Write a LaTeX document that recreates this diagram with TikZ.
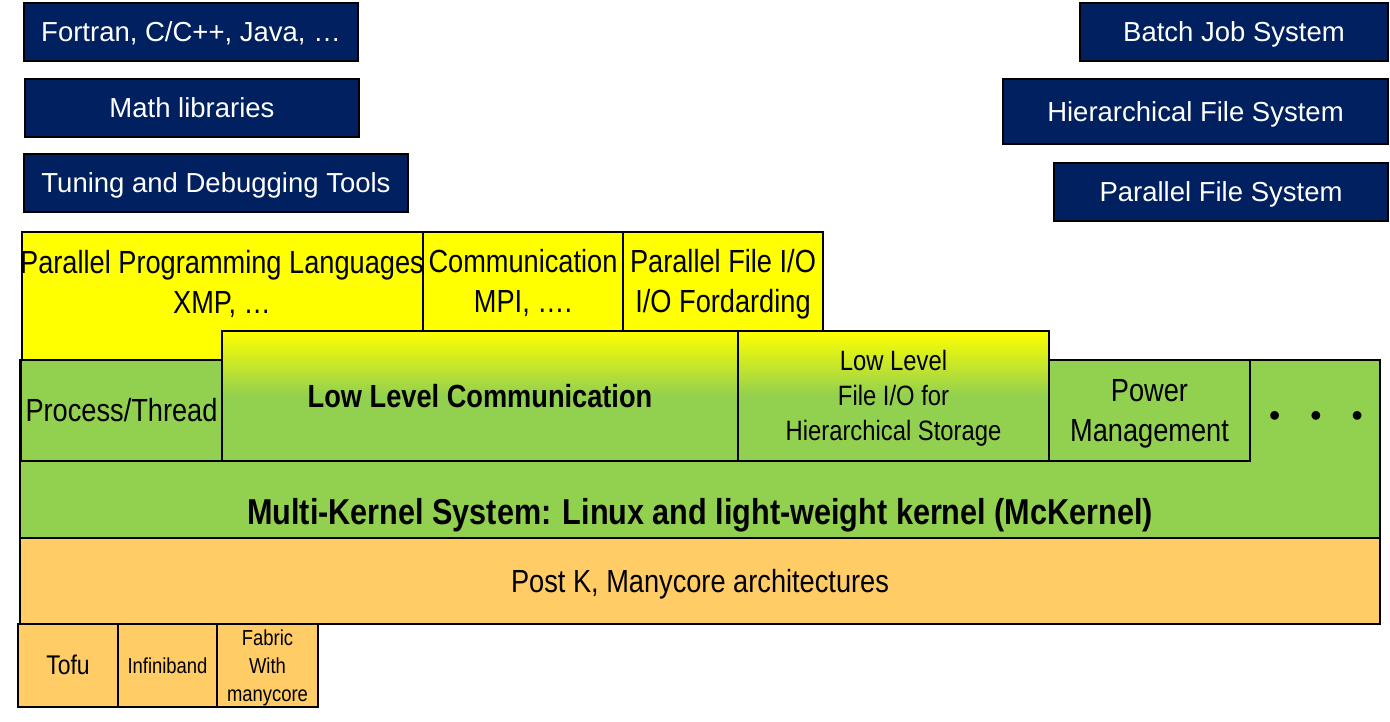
\documentclass[tikz,border=0pt]{standalone}
\usepackage{fontspec}
\setmainfont{Liberation Sans}
\newfontfamily\narrowfont[FakeStretch=0.85]{Liberation Sans}
\usepackage{tikz}

\definecolor{navy}{RGB}{0,32,96}
\definecolor{ylw}{RGB}{255,255,0}
\definecolor{grn}{RGB}{146,208,80}
\definecolor{orng}{RGB}{255,204,102}
\pgfdeclareverticalshading{lowshade}{100bp}{color(0bp)=(grn); color(50bp)=(grn); color(75bp)=(ylw); color(100bp)=(ylw)}

% line box as the slides center it
\newcommand{\ascentrule}{\rule{0pt}{0.905em}}
\newcommand{\descentrule}{\rule[-0.212em]{0pt}{0.212em}}

\tikzset{
  textbox/.style={inner sep=0pt, outer sep=0pt, align=center,
    execute at begin node=\ascentrule, execute at end node=\descentrule},
  layer/.style={textbox, draw=black, line width=2pt, anchor=north west, text=black,
    font=\narrowfont\fontsize{32}{40}\selectfont},
  navybox/.style={layer, fill=navy, text=white, font=\fontsize{27.5}{32}\selectfont},
  yellowbox/.style={layer, fill=ylw},
  greenbox/.style={layer, fill=grn},
  gradbox/.style={layer, shading=lowshade},
  orangebox/.style={layer, fill=orng},
  plain/.style={textbox, font=\narrowfont\fontsize{32}{40}\selectfont}
}

\begin{document}
\begin{tikzpicture}[x=1pt,y=-1pt]
  \useasboundingbox (0,0) rectangle (1390,722);

    % tools and services
    \node[navybox, minimum width=334pt, minimum height=58pt] (lang)  at (24,3)    {Fortran, C/C++, Java, …};
    \node[navybox, minimum width=334pt, minimum height=58pt] (math)  at (25,79)   {Math libraries};
    \node[navybox, minimum width=384pt, minimum height=58pt] (tools) at (24,154)  {Tuning and Debugging Tools};
    \node[navybox, minimum width=308pt, minimum height=58pt] (batch) at (1080,3)  {Batch Job System};
    \node[navybox, minimum width=385pt, minimum height=65pt] (hfs)   at (1003,79) {Hierarchical File System};
    \node[navybox, minimum width=334pt, minimum height=58pt] (pfs)   at (1054,163) {Parallel File System};

    % middleware
    \node[yellowbox, minimum width=401pt, minimum height=128pt] (ppl) at (22,232) {};
    \node[plain] (ppltext) at (222,282) {\ascentrule Parallel Programming Languages\\XMP, …\descentrule};
    \node[yellowbox, minimum width=200pt, minimum height=99pt] (comm) at (423,232)
      {\ascentrule Communication\\MPI, ….\descentrule};
    \node[yellowbox, minimum width=200pt, minimum height=99pt] (pfio) at (623,232)
      {\ascentrule Parallel File I/O\\I/O Fordarding\descentrule};

    % kernel
    \node[greenbox, minimum width=1360pt, minimum height=178pt] (mck) at (20,360) {};
    \node[plain, font=\narrowfont\bfseries\fontsize{36}{40}\selectfont] (mcktext) at (700,512)
      {Multi-Kernel System: Linux and light-weight kernel (McKernel)};
    \node[greenbox, minimum width=201pt, minimum height=101pt] (proc) at (21,360) {Process/Thread};
    \node[gradbox, minimum width=516pt, minimum height=130pt] (llc) at (222,331) {\bfseries Low Level Communication};
    \node[gradbox, minimum width=311pt, minimum height=130pt, font=\narrowfont\fontsize{28}{35}\selectfont]
      (llfio) at (738,331) {\ascentrule Low Level\\File I/O for\\Hierarchical Storage\descentrule};
    \node[greenbox, minimum width=201pt, minimum height=101pt] (power) at (1049,360)
      {\ascentrule Power\\Management\descentrule};
    \node[inner sep=0pt, anchor=base, font=\fontsize{32}{40}\selectfont] (dots) at (1316,426)
      {•\hspace{30pt}•\hspace{30pt}•};

    % hardware
    \node[orangebox, minimum width=1360pt, minimum height=86pt] (postk) at (20,538) {Post K, Manycore architectures};
    \node[orangebox, minimum width=100pt, minimum height=83pt, font=\narrowfont\fontsize{27}{28}\selectfont]
      (tofu) at (18,624) {Tofu};
    \node[orangebox, minimum width=99pt, minimum height=83pt, font=\narrowfont\fontsize{21.7}{28}\selectfont]
      (ib) at (118,624) {Infiniband};
    \node[orangebox, minimum width=101pt, minimum height=83pt, font=\narrowfont\fontsize{21.7}{28}\selectfont]
      (fabric) at (217,624) {\ascentrule Fabric\\With\\manycore\descentrule};

\end{tikzpicture}
\end{document}
